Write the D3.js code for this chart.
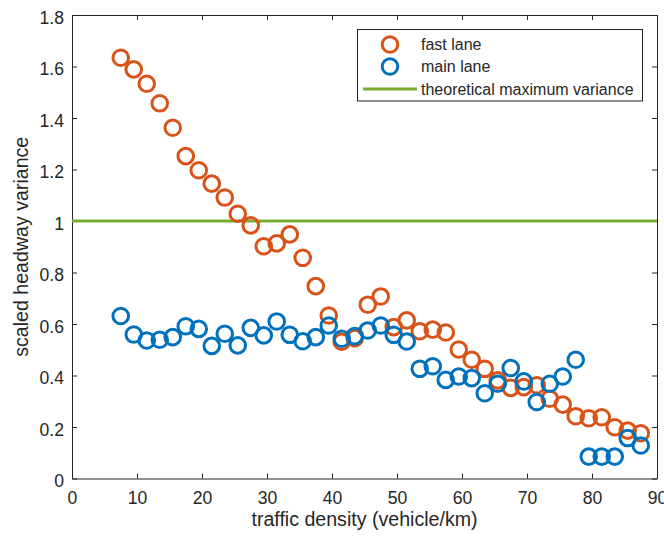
<!DOCTYPE html>
<html><head><meta charset="utf-8">
<script src="https://cdn.jsdelivr.net/npm/d3@7"></script>
<style>body{margin:0;background:#fff}text{font-family:"Liberation Sans",Arial,sans-serif}</style>
</head><body><svg id="c" width="664" height="536"></svg>
<script>
const density = [7.5,9.5,11.5,13.5,15.5,17.5,19.5,21.5,23.5,25.5,27.5,29.5,31.5,33.5,35.5,37.5,39.5,41.5,43.5,45.5,47.5,49.5,51.5,53.5,55.5,57.5,59.5,61.5,63.5,65.5,67.5,69.5,71.5,73.5,75.5,77.5,79.5,81.5,83.5,85.5,87.5];
const fastLane = [1.634,1.589,1.533,1.457,1.362,1.252,1.197,1.145,1.091,1.028,0.983,0.902,0.913,0.948,0.857,0.747,0.633,0.531,0.545,0.675,0.707,0.588,0.614,0.572,0.578,0.567,0.501,0.461,0.426,0.381,0.352,0.355,0.362,0.310,0.287,0.242,0.234,0.238,0.199,0.186,0.176];
const mainLane = [0.631,0.559,0.536,0.539,0.549,0.591,0.581,0.515,0.562,0.517,0.585,0.556,0.610,0.558,0.533,0.549,0.594,0.543,0.553,0.575,0.594,0.558,0.532,0.426,0.436,0.383,0.396,0.390,0.331,0.368,0.429,0.377,0.297,0.368,0.396,0.461,0.085,0.085,0.085,0.157,0.128];
const theoreticalMax = 1;
const xTicks = [0,10,20,30,40,50,60,70,80,90];
const yTicks = [0,0.2,0.4,0.6,0.8,1,1.2,1.4,1.6,1.8];
const legendLabels = ["fast lane","main lane","theoretical maximum variance"];

const svg = d3.select("#c");
const L=72,R=657,T=15,B=478.5;
const x = d3.scaleLinear().domain([0,90]).range([L,R]);
const y = d3.scaleLinear().domain([0,1.8]).range([B,T]);
const axc = "#262626";
const orange="#D95319", blue="#0072BD", green="#77AC30";
const font = '"Liberation Sans",Arial,sans-serif';

const g = svg.append("g");
const xa = g.append("g").attr("transform",`translate(0,${B})`).call(d3.axisBottom(x).tickValues(xTicks).tickFormat(d3.format("d")).tickSizeInner(-5).tickSizeOuter(0).tickPadding(13));
const xt = g.append("g").attr("transform",`translate(0,${T})`).call(d3.axisTop(x).tickValues(xTicks).tickFormat("").tickSizeInner(-5).tickSizeOuter(0));
const ya = g.append("g").attr("transform",`translate(${L},0)`).call(d3.axisLeft(y).tickValues(yTicks).tickFormat(d=>String(+d.toFixed(1))).tickSizeInner(-5).tickSizeOuter(0).tickPadding(8));
const yr = g.append("g").attr("transform",`translate(${R},0)`).call(d3.axisRight(y).tickValues(yTicks).tickFormat("").tickSizeInner(-5).tickSizeOuter(0));
[xa,xt,ya,yr].forEach(a=>{a.select(".domain").attr("stroke",axc).attr("stroke-width",1);a.selectAll(".tick line").attr("stroke",axc);a.selectAll("text").attr("fill",axc).style("font-size","17.6px").style("font-family",font);});
ya.selectAll("text").attr("dy","0.46em");

g.append("line").attr("x1",x(0)).attr("x2",x(90)).attr("y1",y(theoreticalMax)).attr("y2",y(theoreticalMax)).attr("stroke",green).attr("stroke-width",3.2);

function scatter(vals,col){
  g.append("g").selectAll("circle").data(vals).join("circle")
   .attr("cx",(d,i)=>x(density[i])).attr("cy",d=>y(d)).attr("r",7.8)
   .attr("fill","none").attr("stroke",col).attr("stroke-width",3);
}
scatter(fastLane,orange);
scatter(mainLane,blue);

svg.append("text").attr("x",(L+R)/2).attr("y",526).attr("text-anchor","middle").attr("fill",axc).style("font-size","19.6px").text("traffic density (vehicle/km)");
svg.append("text").attr("transform",`translate(28,${(T+B)/2}) rotate(-90)`).attr("text-anchor","middle").attr("fill",axc).style("font-size","19.6px").text("scaled headway variance");

const lg = svg.append("g");
lg.append("rect").attr("x",357.5).attr("y",29.5).attr("width",285).attr("height",71.5).attr("fill","#fff").attr("stroke",axc).attr("stroke-width",1);
const ly=[44.5,66.5,89];
lg.append("circle").attr("cx",390).attr("cy",ly[0]).attr("r",7.8).attr("fill","none").attr("stroke",orange).attr("stroke-width",3);
lg.append("circle").attr("cx",390).attr("cy",ly[1]).attr("r",7.8).attr("fill","none").attr("stroke",blue).attr("stroke-width",3);
lg.append("line").attr("x1",363).attr("x2",417).attr("y1",ly[2]).attr("y2",ly[2]).attr("stroke",green).attr("stroke-width",3.2);
legendLabels.forEach((t,i)=>lg.append("text").attr("x",421).attr("y",ly[i]).attr("dy","0.35em").attr("fill",axc).style("font-size","16px").text(t));
</script></body></html>
